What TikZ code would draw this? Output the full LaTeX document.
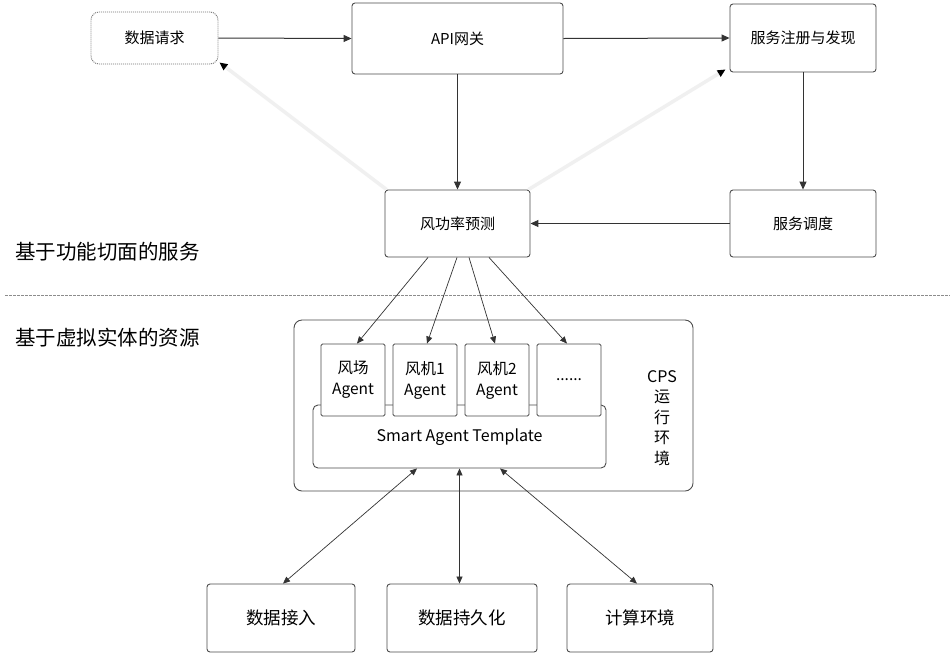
\documentclass[tikz,border=0pt]{standalone}
\usepackage{fontspec}
\setmainfont{Noto Sans CJK SC}
\usetikzlibrary{arrows.meta,calc}
\begin{document}
\begin{tikzpicture}[x=1pt,y=-1pt,
  box/.style={draw=black!70, line width=0.9pt, rounded corners=3pt, fill=white, inner sep=0pt, align=center},
  txt/.style={font=\fontsize{15}{18}\selectfont},
  bigtxt/.style={font=\fontsize{17.5}{20}\selectfont},
  agentbox/.style={box, rounded corners=1.5pt, minimum width=64pt, minimum height=72pt, font=\fontsize{15.5}{21}\selectfont},
  conn/.style={draw=black!80, line width=1pt, -{Triangle[length=8pt,width=7pt]}},
  thin/.style={draw=black!80, line width=0.7pt, -{Triangle[length=7pt,width=6pt]}},
  dbl/.style={draw=black!80, line width=0.7pt, {Triangle[length=7pt,width=6pt]}-{Triangle[length=7pt,width=6pt]}},
  faint/.style={draw=black!6, line width=3.5pt, -{Triangle[length=8pt,width=7pt,color=black]}}
]
\useasboundingbox (0,0) rectangle (952,654);
\fill[white] (0,0) rectangle (952,654);

% top row
\node[box, txt, draw=black!55, dash pattern=on 1pt off 1pt, rounded corners=8pt, minimum width=127pt, minimum height=52pt] (req) at (154.5,38) {数据请求};
\node[box, txt, minimum width=211pt, minimum height=71pt] (api) at (457.5,38.5) {API网关};
\node[box, txt, minimum width=146pt, minimum height=68pt] (reg) at (803,38) {服务注册与发现};
\node[box, txt, minimum width=145pt, minimum height=67pt] (fg) at (457.5,223.5) {风功率预测};
\node[box, txt, minimum width=146pt, minimum height=67pt] (sch) at (803,223.5) {服务调度};

% left labels
\node[font=\fontsize{20.5}{24}\selectfont, anchor=west, inner sep=0pt] (lab1) at (15,252) {基于功能切面的服务};
\node[font=\fontsize{20.5}{24}\selectfont, anchor=west, inner sep=0pt] (lab2) at (15,338) {基于虚拟实体的资源};

% separator
\coordinate (sepL) at (5,295);
\coordinate (sepR) at (950,295);
\draw[black!45, line width=0.7pt, dash pattern=on 2.5pt off 1.5pt] (sepL) -- (sepR);

% CPS container
\node[box, rounded corners=8pt, minimum width=399pt, minimum height=171pt] (cps) at (493.5,405.5) {};
\node[align=center, inner sep=0pt, font=\fontsize{16}{20.5}\selectfont] (cpstxt) at (662,418) {CPS\\运\\行\\环\\境};
\node[box, rounded corners=5pt, minimum width=293pt, minimum height=63pt, font=\fontsize{16}{18}\selectfont, text depth=0pt] (tpl) at (459.5,436.5) {};
\node[font=\fontsize{16}{18}\selectfont, inner sep=0pt] (tpltxt) at (459.5,437) {Smart Agent Template};

% agents
\node[agentbox] (a1) at (353,380) {风场\\Agent};
\node[agentbox] (a2) at (425,380) {风机1\\Agent};
\node[agentbox] (a3) at (497,380) {风机2\\Agent};
\node[agentbox] (a4) at (569,380) {......};

% bottom row
\node[box, bigtxt, minimum width=148pt, minimum height=68pt] (b1) at (281,618) {数据接入};
\node[box, bigtxt, minimum width=150pt, minimum height=68pt] (b2) at (462,618) {数据持久化};
\node[box, bigtxt, minimum width=146pt, minimum height=68pt] (b3) at (640,618) {计算环境};

% connectors
\draw[conn] (req.east) -- (api.west);
\draw[conn] (api.east) -- (reg.west);
\draw[conn] (api.south) -- (fg.north);
\draw[conn] (reg.south) -- (sch.north);
\draw[conn] (sch.west) -- (fg.east);
\draw[faint] ([xshift=2pt]fg.north west) -- ([xshift=1pt,yshift=2pt]req.south east);
\draw[faint] ([xshift=-2pt]fg.north east) -- ([xshift=-4pt,yshift=3pt]reg.south west);

\draw[thin] ([xshift=-29.5pt]fg.south) -- ([xshift=4pt]a1.north);
\draw[thin] ([xshift=-0.5pt]fg.south) -- ([xshift=2pt]a2.north);
\draw[thin] ([xshift=11.5pt]fg.south) -- ([xshift=-2pt]a3.north);
\draw[thin] ([xshift=31.5pt]fg.south) -- ([xshift=-2pt]a4.north);

\draw[dbl] ([xshift=-42.5pt]tpl.south) -- ([xshift=2pt]b1.north);
\draw[dbl] ([xshift=0pt]tpl.south) -- ([xshift=-2.5pt]b2.north);
\draw[dbl] ([xshift=40.5pt]tpl.south) -- ([xshift=-3pt]b3.north);
\end{tikzpicture}
\end{document}
